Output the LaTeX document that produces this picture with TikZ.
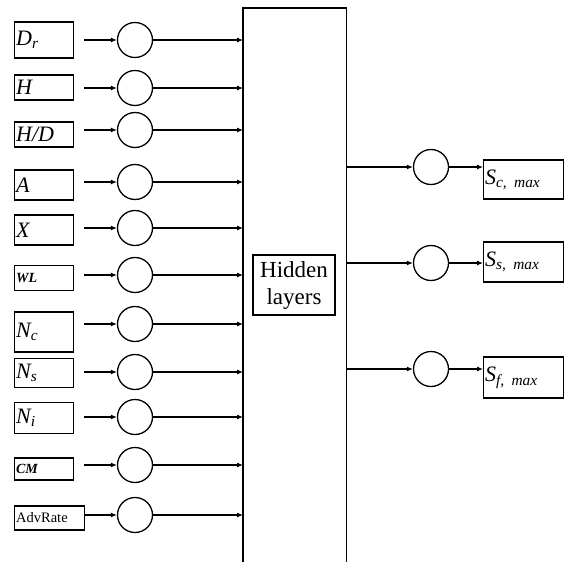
\documentclass[tikz,border=0pt]{standalone}
\usepackage{fontspec}
\setmainfont{Liberation Serif}
\usetikzlibrary{arrows.meta, positioning}

\begin{document}
\begin{tikzpicture}[
  x=1pt, y=-1pt,
  % input box; height given per node
  inbox/.style={
    rectangle, draw=black, line width=1.3pt,
    anchor=west, minimum width=59pt,
    text width=56pt, align=left,
    inner xsep=1.5pt, inner ysep=0pt,
    font=\fontsize{22}{23}\selectfont\itshape
  },
  smalllab/.style={font=\fontsize{14}{15}\selectfont\bfseries\itshape},
  outbox/.style={
    rectangle, draw=black, line width=1.3pt,
    anchor=west, minimum width=80pt,
    text width=77pt, align=left,
    inner xsep=1.5pt, inner ysep=0pt,
    font=\fontsize{22}{23}\selectfont\itshape
  },
  neuron/.style={circle, draw=black, line width=1.3pt, minimum size=35pt, inner sep=0pt},
  arr/.style={-{Latex[length=6pt,width=5pt]}, line width=1.1pt, shorten <=10pt},
  link/.style={-{Latex[length=6pt,width=5pt]}, line width=1.1pt},
]
\useasboundingbox (0,0) rectangle (564,562);

%% ── Input boxes ────────────────────────────────────────────────────────────
\node[inbox, minimum height=36pt] (in1)  at (14,40)    {D\textsubscript{r}};
\node[inbox, minimum height=25pt] (in2)  at (14,87.5)  {H};
\node[inbox, minimum height=25pt] (in3)  at (14,134.5) {H/D};
\node[inbox, minimum height=30pt] (in4)  at (14,185)   {A};
\node[inbox, minimum height=30pt] (in5)  at (14,230)   {X};
\node[inbox, smalllab, minimum height=25pt] (in6) at (14,278) {WL};
\node[inbox, minimum height=40pt] (in7)  at (14,332)   {N\textsubscript{c}};
\node[inbox, minimum height=29pt] (in8)  at (14,373)   {N\textsubscript{s}};
\node[inbox, minimum height=31pt] (in9)  at (14,418)   {N\textsubscript{i}};
\node[inbox, smalllab, minimum height=22pt] (in10) at (14,469) {CM};
\node[inbox, minimum height=24pt, minimum width=70pt, text width=67pt,
      font=\fontsize{14.5}{15}\selectfont] (in11) at (14,518) {AdvRate};

%% ── Input neurons ──────────────────────────────────────────────────────────
\node[neuron] (n1)  at (135,40)  {};
\node[neuron] (n2)  at (135,88)  {};
\node[neuron] (n3)  at (135,130) {};
\node[neuron] (n4)  at (135,182) {};
\node[neuron] (n5)  at (135,228) {};
\node[neuron] (n6)  at (135,275) {};
\node[neuron] (n7)  at (135,324) {};
\node[neuron] (n8)  at (135,372) {};
\node[neuron] (n9)  at (135,417) {};
\node[neuron] (n10) at (135,465) {};
\node[neuron] (n11) at (135,515) {};

%% ── Network column (open at the bottom) ───────────────────────────────────
\node[minimum width=103pt, minimum height=554pt, inner sep=0pt, anchor=north west] (net) at (243,8) {};
\draw[line width=1.3pt] (net.south west) -- (net.north west) -- (net.north east) -- (net.south east);

\node[draw=black, line width=1.3pt, minimum width=82pt, minimum height=60pt,
      align=center, font=\fontsize{23}{27}\selectfont] (hid) at (294,285) {Hidden\\layers};

%% ── Output neurons and boxes ───────────────────────────────────────────────
\node[neuron] (o1) at (431,167) {};
\node[neuron] (o2) at (431,263) {};
\node[neuron] (o3) at (431,369) {};

\node[outbox, minimum height=39pt] (s1) at (483,179.5) {S\textsubscript{c, max}};
\node[outbox, minimum height=40pt] (s2) at (483,262)   {S\textsubscript{s, max}};
\node[outbox, minimum height=41pt] (s3) at (483,377.5) {S\textsubscript{f, max}};

%% ── Arrows ────────────────────────────────────────────────────────────────
\draw[arr] (in1.east |- n1)   -- (n1);
\draw[arr] (in2.east |- n2)   -- (n2);
\draw[arr] (in3.east |- n3)   -- (n3);
\draw[arr] (in4.east |- n4)   -- (n4);
\draw[arr] (in5.east |- n5)   -- (n5);
\draw[arr] (in6.east |- n6)   -- (n6);
\draw[arr] (in7.east |- n7)   -- (n7);
\draw[arr] (in8.east |- n8)   -- (n8);
\draw[arr] (in9.east |- n9)   -- (n9);
\draw[arr] (in10.east |- n10) -- (n10);
\draw[link] (in11.east |- n11) -- (n11);

\draw[link] (n1)  -- (net.west |- n1);
\draw[link] (n2)  -- (net.west |- n2);
\draw[link] (n3)  -- (net.west |- n3);
\draw[link] (n4)  -- (net.west |- n4);
\draw[link] (n5)  -- (net.west |- n5);
\draw[link] (n6)  -- (net.west |- n6);
\draw[link] (n7)  -- (net.west |- n7);
\draw[link] (n8)  -- (net.west |- n8);
\draw[link] (n9)  -- (net.west |- n9);
\draw[link] (n10) -- (net.west |- n10);
\draw[link] (n11) -- (net.west |- n11);

\draw[link] (net.east |- o1) -- (o1);
\draw[link] (net.east |- o2) -- (o2);
\draw[link] (net.east |- o3) -- (o3);
\draw[link] (o1) -- (s1.west |- o1);
\draw[link] (o2) -- (s2.west |- o2);
\draw[link] (o3) -- (s3.west |- o3);

\end{tikzpicture}
\end{document}
